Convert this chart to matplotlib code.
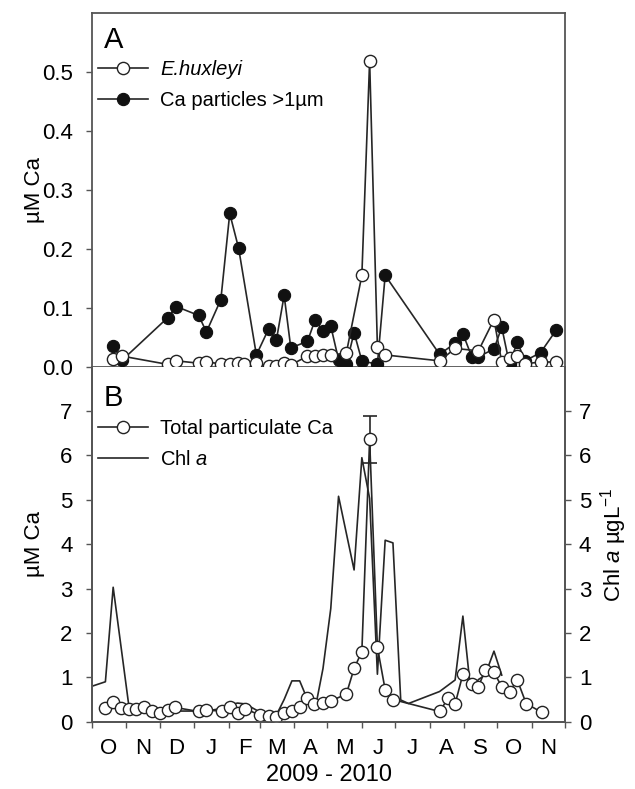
import matplotlib
matplotlib.use('Agg')
import matplotlib.pyplot as plt
import matplotlib.dates as mdates
import pandas as pd
from matplotlib.lines import Line2D

plt.rcParams['font.family'] = ['Liberation Sans', 'DejaVu Sans']
plt.rcParams['mathtext.fontset'] = 'custom'
plt.rcParams['mathtext.rm'] = 'Liberation Sans'
plt.rcParams['mathtext.it'] = 'Liberation Sans:italic'

# Panel A: E. huxleyi calcite and Ca particles >1um (uM Ca)
hux_dates = ['2009-10-20', '2009-10-28', '2009-12-08', '2009-12-16', '2010-01-05', '2010-01-12',
             '2010-01-25', '2010-02-02', '2010-02-09', '2010-02-15', '2010-02-26', '2010-03-09',
             '2010-03-16', '2010-03-23', '2010-03-29', '2010-04-13', '2010-04-20', '2010-04-27',
             '2010-05-04', '2010-05-18', '2010-06-01', '2010-06-08', '2010-06-15', '2010-06-22',
             '2010-08-10', '2010-08-24', '2010-09-14', '2010-09-28', '2010-10-05', '2010-10-12',
             '2010-10-19', '2010-10-26', '2010-11-09', '2010-11-23']
hux = [0.013, 0.018, 0.004, 0.010, 0.006, 0.008, 0.005, 0.005, 0.006, 0.004, 0.006, 0.001,
       0.001, 0.006, 0.003, 0.018, 0.018, 0.020, 0.020, 0.023, 0.155, 0.519, 0.034, 0.020,
       0.010, 0.031, 0.027, 0.080, 0.008, 0.014, 0.018, 0.005, 0.008, 0.008]

cap_dates = ['2009-10-20', '2009-10-28', '2009-12-08', '2009-12-16', '2010-01-05', '2010-01-12',
             '2010-01-25', '2010-02-02', '2010-02-10', '2010-02-26', '2010-03-09', '2010-03-16',
             '2010-03-23', '2010-03-29', '2010-04-13', '2010-04-20', '2010-04-27', '2010-05-04',
             '2010-05-11', '2010-05-18', '2010-05-25', '2010-06-01', '2010-06-15', '2010-06-22',
             '2010-08-10', '2010-08-24', '2010-08-31', '2010-09-08', '2010-09-14', '2010-09-28',
             '2010-10-05', '2010-10-12', '2010-10-19', '2010-10-26', '2010-11-09', '2010-11-23']
cap = [0.035, 0.011, 0.083, 0.102, 0.087, 0.059, 0.114, 0.260, 0.201, 0.020, 0.064, 0.045,
       0.121, 0.032, 0.043, 0.080, 0.060, 0.069, 0.012, 0.004, 0.058, 0.010, 0.004, 0.155,
       0.021, 0.040, 0.056, 0.017, 0.017, 0.030, 0.067, 0.004, 0.042, 0.010, 0.024, 0.062]

# Panel B: total particulate Ca (uM) and Chl a (ug/L)
tca_dates = ['2009-10-13', '2009-10-20', '2009-10-27', '2009-11-03', '2009-11-10', '2009-11-17',
             '2009-11-24', '2009-12-01', '2009-12-08', '2009-12-15', '2010-01-05', '2010-01-12',
             '2010-01-26', '2010-02-02', '2010-02-09', '2010-02-16', '2010-03-01', '2010-03-09',
             '2010-03-16', '2010-03-23', '2010-03-30', '2010-04-06', '2010-04-13', '2010-04-19',
             '2010-04-27', '2010-05-04', '2010-05-18', '2010-05-25', '2010-06-01', '2010-06-08',
             '2010-06-15', '2010-06-22', '2010-06-29', '2010-08-10', '2010-08-18', '2010-08-24',
             '2010-08-31', '2010-09-08', '2010-09-14', '2010-09-20', '2010-09-28', '2010-10-05',
             '2010-10-12', '2010-10-19', '2010-10-27', '2010-11-10']
tca = [0.30, 0.45, 0.30, 0.28, 0.28, 0.32, 0.25, 0.19, 0.26, 0.32, 0.23, 0.26,
       0.24, 0.34, 0.19, 0.29, 0.15, 0.13, 0.11, 0.20, 0.24, 0.32, 0.53, 0.39,
       0.43, 0.47, 0.62, 1.20, 1.58, 6.36, 1.68, 0.72, 0.50, 0.23, 0.54, 0.40,
       1.07, 0.86, 0.79, 1.16, 1.11, 0.79, 0.68, 0.94, 0.41, 0.21]
err_date = '2010-06-08'
err_val = 0.52

chl_dates = ['2009-10-01', '2009-10-13', '2009-10-20', '2009-11-03', '2009-11-10', '2009-11-17',
             '2009-11-24', '2009-12-01', '2009-12-08', '2009-12-15', '2010-01-05', '2010-01-12',
             '2010-01-26', '2010-02-02', '2010-02-09', '2010-02-16', '2010-03-01', '2010-03-09',
             '2010-03-16', '2010-03-23', '2010-03-30', '2010-04-06', '2010-04-13', '2010-04-20',
             '2010-04-27', '2010-05-04', '2010-05-11', '2010-05-25', '2010-06-01', '2010-06-08',
             '2010-06-15', '2010-06-22', '2010-06-29', '2010-07-06', '2010-07-13', '2010-08-10',
             '2010-08-24', '2010-08-31', '2010-09-07', '2010-09-14', '2010-09-20', '2010-09-28',
             '2010-10-05']
chl = [0.80, 0.90, 3.03, 0.38, 0.30, 0.28, 0.22, 0.20, 0.22, 0.24, 0.24, 0.24,
       0.30, 0.38, 0.42, 0.40, 0.22, 0.15, 0.15, 0.50, 0.92, 0.92, 0.50, 0.30,
       1.20, 2.55, 5.08, 3.42, 5.95, 5.03, 1.07, 4.09, 4.03, 0.49, 0.41, 0.68,
       0.94, 2.38, 0.71, 0.95, 1.05, 1.59, 1.05]

x_start = pd.Timestamp('2009-10-01')
x_end = pd.Timestamp('2010-12-01')

line_c = '#262626'
spine_c = '#555555'
ms = 8.8
fs = 16
lw = 1.2

fig = plt.figure(figsize=(6.35, 7.89), dpi=100)
axA = fig.add_axes([0.145, 0.5352, 0.7448, 0.4483])
axB = fig.add_axes([0.145, 0.0853, 0.7448, 0.4499])

# ---- Panel A ----
axA.plot(pd.to_datetime(cap_dates), cap, '-o', color=line_c, lw=lw, ms=ms,
         mfc='#111111', mec='#111111', mew=0.8, clip_on=False, zorder=3)
axA.plot(pd.to_datetime(hux_dates), hux, '-o', color=line_c, lw=lw, ms=ms,
         mfc='white', mec='#222222', mew=1.0, clip_on=False, zorder=4)
axA.set_xlim(x_start, x_end)
axA.set_ylim(0, 0.6)
axA.set_yticks([0.0, 0.1, 0.2, 0.3, 0.4, 0.5])
axA.set_yticklabels(['0.0', '0.1', '0.2', '0.3', '0.4', '0.5'])
axA.set_xticks([])
axA.tick_params(axis='y', direction='out', length=4, width=1, color=spine_c, labelsize=fs, pad=10)
axA.set_ylabel('µM Ca', fontsize=fs)
axA.yaxis.set_label_coords(-0.10, 0.5)
axA.text(0.025, 0.925, 'A', transform=axA.transAxes, fontsize=21, va='center', ha='left')

hA = [Line2D([], [], color=line_c, lw=lw, marker='o', ms=ms, mfc='white', mec='#222222', mew=1.0),
      Line2D([], [], color=line_c, lw=lw, marker='o', ms=ms, mfc='#111111', mec='#111111', mew=0.8)]
legA = axA.legend(hA, ['E.huxleyi', 'Ca particles >1µm'], loc='upper left',
                  bbox_to_anchor=(0.012, 0.868), frameon=False, fontsize=14.5,
                  handlelength=2.5, handletextpad=0.6, labelspacing=0.6, borderpad=0, borderaxespad=0)
legA.get_texts()[0].set_style('italic')

# ---- Panel B ----
axB.plot(pd.to_datetime(chl_dates), chl, '-', color=line_c, lw=lw, zorder=2)
axB.plot(pd.to_datetime(tca_dates), tca, '-o', color=line_c, lw=lw, ms=ms,
         mfc='white', mec='#222222', mew=1.0, zorder=3)
axB.errorbar([pd.Timestamp(err_date)], [tca[tca_dates.index(err_date)]], yerr=[err_val],
             fmt='none', ecolor=line_c, elinewidth=lw, capsize=5, capthick=lw, zorder=2)
axB.set_xlim(x_start, x_end)
axB.set_ylim(0, 8)
axB.set_yticks(range(0, 8))
axB.tick_params(axis='y', direction='out', length=4, width=1, color=spine_c, labelsize=fs, pad=10)
axB.set_ylabel('µM Ca', fontsize=fs)
axB.yaxis.set_label_coords(-0.10, 0.5)
axB.text(0.025, 0.912, 'B', transform=axB.transAxes, fontsize=21, va='center', ha='left')

axB.xaxis.set_major_locator(mdates.MonthLocator())
axB.xaxis.set_major_formatter(plt.NullFormatter())
axB.xaxis.set_minor_locator(mdates.MonthLocator(bymonthday=16))
axB.xaxis.set_minor_formatter(plt.FuncFormatter(lambda v, p: mdates.num2date(v).strftime('%b')[0]))
axB.tick_params(axis='x', which='major', direction='out', length=4, width=1, color=spine_c)
axB.tick_params(axis='x', which='minor', length=0, labelsize=fs, pad=12)
axB.set_xlabel('2009 - 2010', fontsize=17, labelpad=3)

axR = axB.twinx()
axR.set_ylim(0, 8)
axR.set_yticks(range(0, 8))
axR.tick_params(axis='y', direction='out', length=4, width=1, color=spine_c, labelsize=fs, pad=6)
axR.set_ylabel('Chl $\\it{a}$ µgL$^{-1}$', fontsize=fs)
axR.yaxis.set_label_coords(1.07, 0.5)

hB = [Line2D([], [], color=line_c, lw=lw, marker='o', ms=ms, mfc='white', mec='#222222', mew=1.0),
      Line2D([], [], color=line_c, lw=lw)]
axB.legend(hB, ['Total particulate Ca', 'Chl $\\it{a}$'], loc='upper left',
           bbox_to_anchor=(0.012, 0.852), frameon=False, fontsize=14.5,
           handlelength=2.5, handletextpad=0.6, labelspacing=0.6, borderpad=0, borderaxespad=0)

for ax in (axA, axB, axR):
    for s in ax.spines.values():
        s.set_color(spine_c)
        s.set_linewidth(1.3)
axB.spines['top'].set_visible(False)
axR.spines['top'].set_visible(False)

fig.savefig('out.png', dpi=100)
